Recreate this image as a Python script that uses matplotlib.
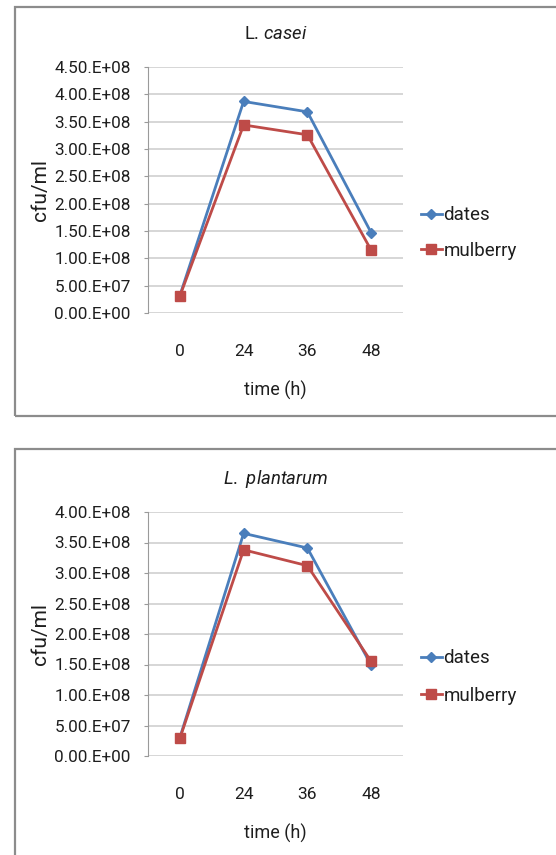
import matplotlib
matplotlib.use('Agg')
import matplotlib.pyplot as plt
from matplotlib.patches import Rectangle

plt.rcParams['font.family'] = ['Roboto', 'DejaVu Sans']
plt.rcParams['mathtext.fontset'] = 'custom'
plt.rcParams['mathtext.rm'] = 'Roboto'
plt.rcParams['mathtext.it'] = 'Roboto:italic'

# data
time_labels = ['0', '24', '36', '48']
casei_dates = [3.2e7, 3.87e8, 3.68e8, 1.47e8]
casei_mulberry = [3.1e7, 3.44e8, 3.26e8, 1.15e8]
plant_dates = [3.0e7, 3.65e8, 3.41e8, 1.49e8]
plant_mulberry = [2.9e7, 3.38e8, 3.12e8, 1.55e8]

casei_ticks = [0, 5e7, 1e8, 1.5e8, 2e8, 2.5e8, 3e8, 3.5e8, 4e8, 4.5e8]
casei_ticklabels = ['0.00.E+00', '5.00.E+07', '1.00.E+08', '1.50.E+08', '2.00.E+08',
                    '2.50.E+08', '3.00.E+08', '3.50.E+08', '4.00.E+08', '4.50.E+08']
plant_ticks = casei_ticks[:-1]
plant_ticklabels = casei_ticklabels[:-1]

BLUE = '#4a7ebb'
RED = '#be4b48'
GRID = '#d6d6d6'
TEXT = '#1e1e1e'
W, H = 556, 855

fig = plt.figure(figsize=(W / 100, H / 100), dpi=100)


def fx(px):
    return px / W


def fy(py):
    return 1 - py / H


# chart frames (drawn behind the axes)
for top, bottom in [(7, 416), (449, 900)]:
    fig.patches.append(Rectangle((fx(15), fy(bottom)), fx(700), (bottom - top) / H,
                                 transform=fig.transFigure, facecolor='none',
                                 edgecolor='#8c8c8c', linewidth=1.6, zorder=-1))


def draw_panel(top, bottom, title, dates, mulberry, ticks, ticklabels, leg_y, leg_space, title_pad):
    ax = fig.add_axes([fx(148), fy(bottom), fx(403 - 148), (bottom - top) / H])
    ax.patch.set_alpha(0)
    x = list(range(len(time_labels)))
    ax.plot(x, dates, color=BLUE, lw=2, marker='D', ms=5, label='dates', zorder=3)
    ax.plot(x, mulberry, color=RED, lw=2, marker='s', ms=6.5, label='mulberry', zorder=3)
    ax.set_xlim(-0.5, 3.5)
    ax.set_ylim(0, ticks[-1])
    ax.set_yticks(ticks)
    ax.set_yticklabels(ticklabels)
    ax.set_xticks(x)
    ax.set_xticklabels(time_labels)
    ax.yaxis.grid(True, color=GRID, lw=1.4)
    ax.set_axisbelow(True)
    for s in ['top', 'right', 'bottom']:
        ax.spines[s].set_visible(False)
    ax.spines['left'].set_color('#9a9a9a')
    ax.tick_params(axis='y', length=3, color='#9a9a9a', labelsize=12.3, labelcolor=TEXT, pad=9.5)
    ax.tick_params(axis='x', length=0, labelsize=12.5, labelcolor=TEXT, pad=22)
    ax.set_xlabel('time (h)', fontsize=13, color=TEXT, labelpad=16)
    ax.set_ylabel('cfu/ml', fontsize=15, color=TEXT, labelpad=3)
    ax.set_title(title, fontsize=13.3, color=TEXT, pad=title_pad)
    ax.legend(loc='center left', bbox_to_anchor=(fx(413), fy(leg_y)), bbox_transform=fig.transFigure,
              frameon=False, fontsize=13.5, handlelength=1.17, handletextpad=0.05,
              labelspacing=leg_space, borderaxespad=0, labelcolor=TEXT)
    return ax


draw_panel(67, 313, r'L. $\mathit{casei}$', casei_dates, casei_mulberry,
           casei_ticks, casei_ticklabels, 233, 0.95, 20)
draw_panel(512, 756, r'$\mathit{L.\ plantarum}$', plant_dates, plant_mulberry,
           plant_ticks, plant_ticklabels, 677, 1.05, 20.5)

fig.savefig('out.png', dpi=100)
